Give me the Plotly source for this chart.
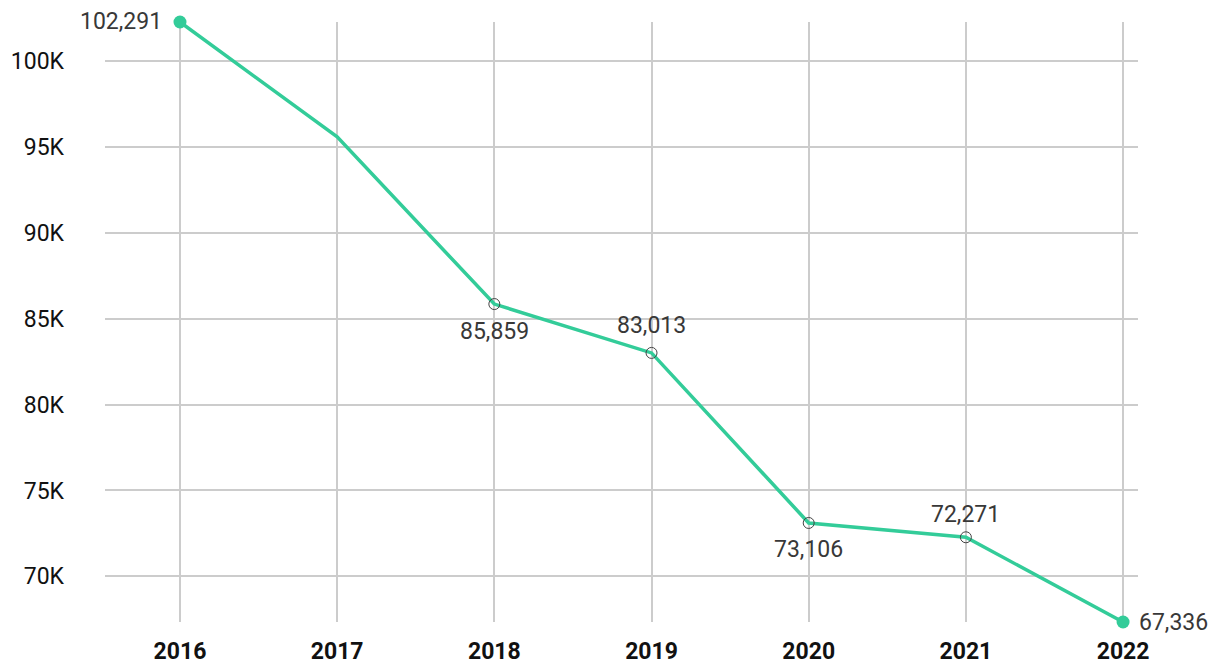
import plotly.graph_objects as go

# Daten
years = [2016, 2017, 2018, 2019, 2020, 2021, 2022]
values = [102291, 95600, 85859, 83013, 73106, 72271, 67336]

label_years = [2016, 2018, 2019, 2020, 2021, 2022]
label_values = [102291, 85859, 83013, 73106, 72271, 67336]

hollow_years = [2018, 2019, 2020, 2021]
hollow_values = [85859, 83013, 73106, 72271]

end_years = [2016, 2022]
end_values = [102291, 67336]

y_ticks = [70000, 75000, 80000, 85000, 90000, 95000, 100000]
y_ticktext = ["70K", "75K", "80K", "85K", "90K", "95K", "100K"]

green = "#33cc99"

# Position der Beschriftung: (xanchor, xshift, yshift)
label_style = [("right", -16, 1), ("center", 0, -27), ("center", 0, 27),
               ("center", 0, -27), ("center", 0, 23), ("left", 14, 0)]

fig = go.Figure()

# Linie
fig.add_trace(go.Scatter(x=years, y=values, mode="lines",
                         line=dict(color=green, width=3.5), hoverinfo="skip",
                         cliponaxis=False))

# hohle Marker
fig.add_trace(go.Scatter(x=hollow_years, y=hollow_values, mode="markers",
                         marker=dict(size=11, color="rgba(0,0,0,0)",
                                     line=dict(color="#444", width=1)),
                         cliponaxis=False))

# Endpunkte
fig.add_trace(go.Scatter(x=end_years, y=end_values, mode="markers",
                         marker=dict(size=13, color=green), cliponaxis=False))

# Beschriftungen
for yr, v, (xa, xs, ys) in zip(label_years, label_values, label_style):
    fig.add_annotation(x=yr, y=v, text=f"{v:,}", showarrow=False,
                       xanchor=xa, yanchor="middle", xshift=xs, yshift=ys,
                       font=dict(size=23, color="#383838", family="Roboto"))

fig.update_layout(
    width=1212, height=662,
    margin=dict(l=97, r=82, t=14, b=48),
    plot_bgcolor="white", paper_bgcolor="white",
    showlegend=False,
    font=dict(family="Roboto", size=20, color="#111"),
)

fig.update_xaxes(range=[2015.523, 2022.095], tickvals=years,
                 ticktext=[f"<b>{y}</b>" for y in years],
                 showgrid=True, gridcolor="#cccccc", gridwidth=1.5,
                 zeroline=False, showline=False, automargin=False,
                 ticklabelstandoff=13,
                 tickfont=dict(size=23, color="#111"))

fig.update_yaxes(range=[67336, 102291], tickvals=y_ticks, ticktext=y_ticktext,
                 showgrid=True, gridcolor="#cccccc", gridwidth=1.5,
                 zeroline=False, showline=False, ticklabelstandoff=40,
                 automargin=False, tickfont=dict(size=23, color="#111"))

fig.write_html("out.html")
